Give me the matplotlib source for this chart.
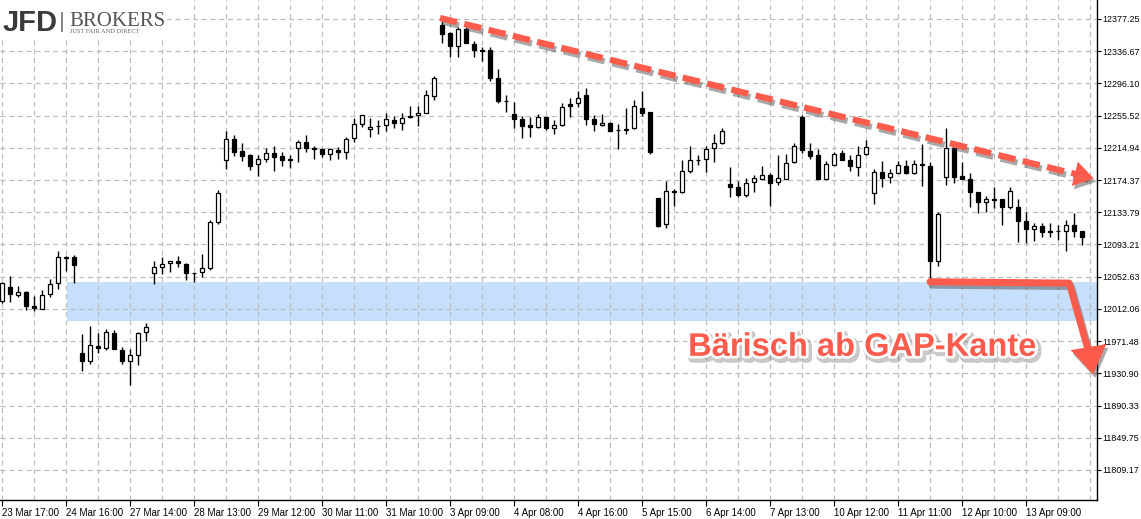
import matplotlib
matplotlib.use("Agg")
import matplotlib.pyplot as plt
from matplotlib.patches import Rectangle
import matplotlib.patheffects as pe

# ---------------- data ----------------
opens = [12022.3, 12039.2, 12029.1, 12033.3, 12015.3, 12012.2, 12030.4, 12044.2, 12076.7, 12077.0,
         11956.0, 11946.0, 11964.9, 11963.1, 11981.2, 11960.2, 11946.0, 11953.5, 11982.9, 12056.8,
         12064.4, 12069.8, 12072.0, 12068.2, 12056.8, 12058.1, 12063.1, 12121.5, 12199.2, 12225.7,
         12210.9, 12205.9, 12194.2, 12200.5, 12208.0, 12204.3, 12200.9, 12214.3, 12222.3, 12214.7,
         12213.1, 12206.8, 12211.8, 12209.3, 12226.9, 12244.6, 12238.3, 12242.8, 12243.3, 12249.6,
         12245.8, 12255.0, 12255.9, 12259.2, 12280.6, 12369.7, 12359.2, 12343.2, 12364.3, 12345.8,
         12337.8, 12337.8, 12302.5, 12274.3, 12257.6, 12250.9, 12243.7, 12240.8, 12253.4, 12239.5,
         12244.1, 12269.8, 12271.0, 12281.1, 12250.9, 12243.3, 12245.8, 12237.4, 12238.7, 12239.5,
         12264.7, 12259.7, 12151.3, 12118.6, 12159.7, 12158.9, 12185.7, 12199.2, 12200.5, 12214.3,
         12220.6, 12169.0, 12165.2, 12155.9, 12171.5, 12176.0, 12180.3, 12171.5, 12175.7, 12197.5,
         12253.4, 12210.9, 12205.9, 12175.7, 12193.7, 12208.8, 12199.6, 12191.2, 12206.8, 12157.6,
         12184.5, 12177.8, 12183.6, 12192.0, 12182.8, 12194.6, 12192.0, 12072.7, 12177.8, 12214.3,
         12179.4, 12175.7, 12158.9, 12146.3, 12150.1, 12150.5, 12140.0, 12140.8, 12123.1, 12112.3,
         12116.1, 12109.8, 12109.8, 12109.8, 12117.3, 12109.8]

highs = [12045.9, 12053.4, 12040.8, 12034.5, 12028.6, 12035.4, 12049.7, 12084.9, 12079.3, 12079.9,
         11980.4, 11990.4, 11981.2, 11986.3, 11985.4, 11963.6, 11961.1, 11982.9, 11993.8, 12072.0,
         12077.0, 12073.0, 12078.6, 12069.4, 12057.8, 12081.2, 12124.0, 12161.8, 12236.1, 12231.1,
         12221.0, 12207.2, 12205.9, 12214.3, 12216.9, 12209.7, 12206.3, 12224.4, 12231.1, 12217.2,
         12214.3, 12214.3, 12216.0, 12228.6, 12252.1, 12256.9, 12252.1, 12250.0, 12258.8, 12255.0,
         12258.8, 12267.6, 12267.6, 12287.8, 12305.8, 12374.7, 12360.9, 12367.6, 12367.6, 12349.5,
         12342.4, 12341.6, 12314.3, 12281.5, 12272.7, 12255.0, 12254.2, 12257.6, 12254.2, 12250.0,
         12271.0, 12277.3, 12286.5, 12289.9, 12256.3, 12257.2, 12247.9, 12244.6, 12264.7, 12275.2,
         12286.5, 12260.1, 12152.1, 12173.1, 12162.7, 12199.6, 12217.2, 12205.5, 12217.2, 12232.4,
         12239.9, 12190.4, 12173.5, 12176.5, 12180.7, 12191.7, 12182.8, 12205.9, 12207.2, 12220.6,
         12256.3, 12221.4, 12213.1, 12198.3, 12210.1, 12212.2, 12205.9, 12217.2, 12224.8, 12187.9,
         12198.3, 12187.9, 12198.7, 12199.6, 12199.6, 12219.8, 12197.5, 12134.5, 12239.5, 12214.7,
         12197.5, 12183.6, 12159.3, 12154.2, 12165.2, 12150.7, 12165.2, 12150.1, 12133.7, 12119.8,
         12119.8, 12119.8, 12117.7, 12124.0, 12132.4, 12110.1]

lows = [12019.8, 12021.1, 12026.6, 12011.0, 12009.7, 12011.9, 12027.4, 12037.4, 12060.1, 12044.2,
        11934.1, 11942.9, 11956.8, 11960.6, 11961.1, 11942.9, 11916.5, 11941.7, 11971.2, 12043.0,
        12055.6, 12058.9, 12064.4, 12048.0, 12045.5, 12051.8, 12061.0, 12119.0, 12187.9, 12204.6,
        12198.7, 12186.6, 12179.4, 12196.7, 12186.1, 12192.0, 12189.9, 12197.5, 12210.1, 12201.2,
        12203.0, 12199.2, 12201.2, 12201.2, 12222.7, 12240.8, 12228.2, 12232.0, 12236.5, 12239.5,
        12237.4, 12253.1, 12242.1, 12258.4, 12274.6, 12347.4, 12329.8, 12329.8, 12346.4, 12329.0,
        12324.7, 12299.5, 12271.8, 12260.5, 12239.5, 12226.9, 12229.0, 12240.5, 12237.4, 12232.4,
        12242.4, 12253.4, 12266.8, 12244.1, 12236.1, 12243.1, 12236.1, 12213.1, 12232.0, 12238.7,
        12255.0, 12206.9, 12115.2, 12114.3, 12141.6, 12158.6, 12182.8, 12192.9, 12184.9, 12197.5,
        12220.4, 12153.4, 12153.4, 12153.4, 12159.7, 12175.7, 12141.6, 12168.1, 12175.4, 12195.4,
        12208.8, 12200.9, 12175.4, 12175.4, 12193.4, 12199.3, 12185.7, 12179.8, 12206.5, 12143.8,
        12166.0, 12171.0, 12183.3, 12181.6, 12182.6, 12166.8, 12048.4, 12066.4, 12168.1, 12171.0,
        12175.7, 12140.8, 12132.4, 12134.5, 12139.5, 12117.7, 12137.5, 12096.7, 12094.6, 12097.9,
        12103.0, 12103.0, 12098.8, 12085.3, 12103.0, 12092.1]

closes = [12044.2, 12030.4, 12032.9, 12016.0, 12013.5, 12029.1, 12043.0, 12077.0, 12078.0, 12066.9,
          11946.7, 11966.1, 11963.1, 11982.5, 11961.1, 11946.0, 11953.5, 11981.2, 11989.6, 12064.4,
          12068.2, 12072.0, 12069.4, 12056.8, 12057.2, 12063.1, 12121.5, 12157.6, 12225.7, 12210.1,
          12205.0, 12192.0, 12200.5, 12208.0, 12203.8, 12200.0, 12199.2, 12222.3, 12215.1, 12213.1,
          12206.8, 12213.1, 12209.3, 12225.7, 12244.6, 12255.9, 12241.6, 12243.1, 12250.9, 12245.8,
          12252.1, 12253.4, 12258.4, 12281.1, 12302.5, 12358.4, 12343.2, 12364.3, 12346.6, 12337.8,
          12337.4, 12303.3, 12274.3, 12273.9, 12250.9, 12242.8, 12240.8, 12253.4, 12239.5, 12243.3,
          12266.8, 12267.6, 12277.3, 12250.9, 12244.6, 12245.8, 12236.5, 12237.0, 12237.4, 12268.0,
          12259.4, 12210.3, 12116.4, 12160.5, 12160.2, 12185.7, 12199.6, 12199.6, 12213.1, 12220.6,
          12235.8, 12166.0, 12155.9, 12170.2, 12176.5, 12180.3, 12171.0, 12176.5, 12195.4, 12217.2,
          12212.2, 12205.0, 12175.7, 12194.2, 12206.8, 12199.6, 12192.4, 12205.9, 12216.6, 12184.5,
          12177.3, 12182.8, 12192.9, 12182.8, 12194.6, 12192.9, 12072.7, 12131.6, 12214.3, 12178.6,
          12176.0, 12159.7, 12147.1, 12150.5, 12149.8, 12140.0, 12160.5, 12123.1, 12112.3, 12116.1,
          12109.3, 12109.4, 12110.1, 12117.3, 12110.5, 12102.2]

xtick_labels = ["23 Mar 17:00", "24 Mar 16:00", "27 Mar 14:00", "28 Mar 13:00", "29 Mar 12:00",
                "30 Mar 11:00", "31 Mar 10:00", "3 Apr 09:00", "4 Apr 08:00", "4 Apr 16:00",
                "5 Apr 15:00", "6 Apr 14:00", "7 Apr 13:00", "10 Apr 12:00", "11 Apr 11:00",
                "12 Apr 10:00", "13 Apr 09:00"]
xtick_pos = [0, 8, 16, 24, 32, 40, 48, 56, 64, 72, 80, 88, 96, 104, 112, 120, 128]

ytick_vals = [12377.25, 12336.67, 12296.10, 12255.52, 12214.94, 12174.37, 12133.79, 12093.21,
              12052.63, 12012.06, 11971.48, 11930.90, 11890.33, 11849.75, 11809.17]

gap_zone = (11996.7, 12046.3)          # blue GAP band (price range)
trend_line = [(54.75, 12378.5), (135.6, 12178.5)]
trend_tip = (136.8, 12175.5)
gap_arrow = [(116.0, 12046.3), (133.4, 12044.6), (136.0, 11952.0)]
gap_tip = (136.45, 11926.0)
annotation_text = "Bärisch ab GAP-Kante"

RED = "#fd5b4c"

# ---------------- figure ----------------
W, H = 1141, 519
fig = plt.figure(figsize=(W / 100, H / 100), dpi=100)
ax = fig.add_axes([0, 19 / H, 1097 / W, 1 - 19 / H])
ax.set_xlim(-0.25, 136.875)
ax.set_ylim(11771.38, 12401.18)

# grid
for gx in range(0, 137, 4):
    ax.axvline(gx, color="#bdbdbd", lw=0.9, dashes=(4, 3), zorder=0.5)
for gy in ytick_vals:
    ax.axhline(gy, color="#bdbdbd", lw=0.9, dashes=(4, 3), zorder=0.5)

# gap band
ax.add_patch(Rectangle((8.15, gap_zone[0]), 140, gap_zone[1] - gap_zone[0],
                       facecolor="#c6e0fb", edgecolor="none", zorder=0.3))

# candles
bw = 0.55
for i, (o, h, l, c) in enumerate(zip(opens, highs, lows, closes)):
    ax.plot([i, i], [l, h], color="black", lw=1.0, zorder=2, solid_capstyle="butt")
    bottom = min(o, c)
    height = abs(c - o)
    face = "white" if c >= o else "black"
    ax.add_patch(Rectangle((i - bw / 2, bottom), bw, height, facecolor=face,
                           edgecolor="black", lw=0.9, zorder=3))

# trend dashed line
shadow = [pe.SimpleLineShadow(offset=(1.5, -2.5), shadow_color="0.25", alpha=0.45), pe.Normal()]
head_shadow = [pe.SimplePatchShadow(offset=(1.5, -2.5), shadow_rgbFace="0.25", alpha=0.45), pe.Normal()]
(tx0, ty0), (tx1, ty1) = trend_line
ax.plot([tx0, tx1], [ty0, ty1], color=RED, lw=4.5, dashes=(2.8, 1.2),
        solid_capstyle="butt", zorder=5, path_effects=shadow)
ax.annotate("", xy=trend_tip, xytext=(tx1 - 0.3, ty1 + 0.75),
            arrowprops=dict(arrowstyle="-|>,head_length=0.7,head_width=0.45",
                            mutation_scale=20, color=RED, lw=0, path_effects=head_shadow),
            zorder=5)

# gap arrow (solid)
gx_, gy_ = zip(*gap_arrow)
ax.plot(gx_, gy_, color=RED, lw=5, solid_capstyle="round",
        solid_joinstyle="round", zorder=5, path_effects=shadow)
ax.annotate("", xy=gap_tip, xytext=(gap_arrow[-1][0] - 0.05, gap_arrow[-1][1] + 4),
            arrowprops=dict(arrowstyle="-|>,head_length=1.0,head_width=0.65",
                            mutation_scale=20, color=RED, lw=0, path_effects=head_shadow),
            zorder=5)

# annotation text
ax.text(107.5, 11953.0, annotation_text, ha="center", va="baseline", fontsize=23.5,
        fontweight="bold", family="Liberation Sans", color=RED, zorder=6,
        path_effects=[pe.Stroke(linewidth=6, foreground="0.4", alpha=0.35, offset=(1.5, -2)),
                      pe.Stroke(linewidth=4, foreground="white"), pe.Normal()])

# axes styling
for s in ["top", "left"]:
    ax.spines[s].set_visible(False)
for s in ["right", "bottom"]:
    ax.spines[s].set_color("black")
    ax.spines[s].set_linewidth(1.0)
ax.yaxis.tick_right()
ax.set_yticks(ytick_vals)
ax.set_yticklabels([f"{v:.2f}" for v in ytick_vals], family="Liberation Sans", fontsize=6.4)
ax.tick_params(axis="y", direction="out", length=3, width=0.8, pad=1)
ax.set_xticks(xtick_pos)
ax.set_xticklabels(xtick_labels, family="Liberation Sans", fontsize=7, ha="left")
ax.tick_params(axis="x", direction="out", length=4, width=0.8, pad=2)

# logo
fig.add_artist(Rectangle((0, 1 - 40 / H), 167 / W, 40 / H, transform=fig.transFigure,
                         facecolor="white", edgecolor="none", zorder=1))
fig.text(3 / W, 1 - 31 / H, "JFD", family="Liberation Sans", fontweight="bold", fontsize=21,
         color="#3a3a3a", zorder=2, va="baseline")
fig.add_artist(Rectangle((61 / W, 1 - 32 / H), 2 / W, 20 / H, transform=fig.transFigure,
                         facecolor="#888888", edgecolor="none", zorder=2))
fig.text(69 / W, 1 - 26 / H, "BROKERS", family="Liberation Serif", fontsize=15,
         color="#555555", zorder=2, va="baseline")
fig.text(70 / W, 1 - 33 / H, "JUST FAIR AND DIRECT", family="Liberation Serif", fontsize=4.6,
         color="#666666", zorder=2, va="baseline")

fig.savefig("out.png", dpi=100, facecolor="white")
